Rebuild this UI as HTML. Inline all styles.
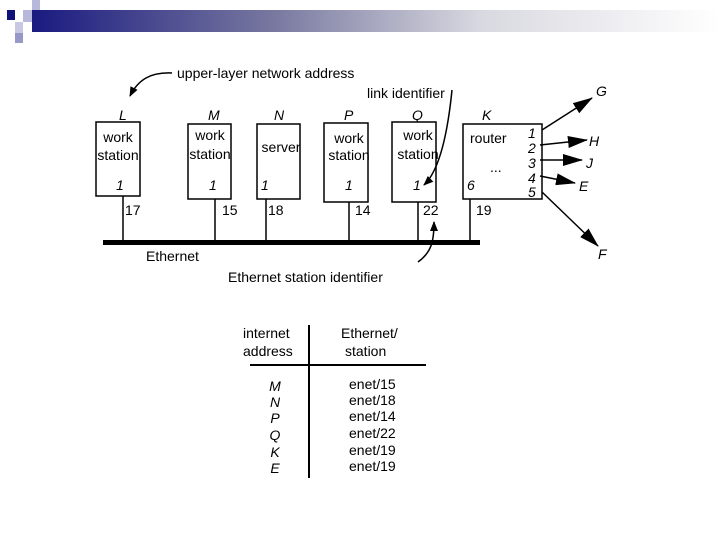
<!DOCTYPE html>
<html><head><meta charset="utf-8"><style>
html,body{margin:0;padding:0;background:#fff;}
svg{display:block;font-family:"Liberation Sans",Arial,sans-serif;}
</style></head><body>
<svg width="720" height="540" viewBox="0 0 720 540" xmlns="http://www.w3.org/2000/svg">
<defs>
<linearGradient id="g" x1="0" x2="1" y1="0" y2="0">
<stop offset="0" stop-color="#1a1a80"/><stop offset="0.35" stop-color="#7878a0"/><stop offset="0.65" stop-color="#d8d8e0"/><stop offset="1" stop-color="#ffffff"/>
</linearGradient>
<marker id="ah" markerWidth="10" markerHeight="8" refX="9" refY="4" orient="auto" markerUnits="userSpaceOnUse"><path d="M0,0 L10,4 L0,8 z" fill="#000"/></marker>
<marker id="big" markerWidth="20" markerHeight="12" refX="19" refY="6" orient="auto" markerUnits="userSpaceOnUse"><path d="M0,0 L20,6 L0,12 z" fill="#000"/></marker>
</defs>
<rect x="32" y="10" width="688" height="22" fill="url(#g)"/>
<rect x="32" y="0" width="8" height="10" fill="#b8b8dc"/>
<rect x="23" y="10" width="9" height="12" fill="#b8b8dc"/>
<rect x="15" y="22" width="8" height="11" fill="#c8c8e4"/>
<rect x="15" y="33" width="8" height="10" fill="#9898c8"/>
<rect x="7" y="10" width="8" height="10" fill="#10107a"/>

<g fill="none" stroke="#000" stroke-width="1.5">
<rect x="96" y="122" width="44" height="74"/>
<rect x="188" y="124" width="43" height="75"/>
<rect x="257" y="124" width="43" height="75"/>
<rect x="324" y="123" width="44" height="79"/>
<rect x="392" y="122" width="44" height="80"/>
<rect x="463" y="124" width="79" height="75"/>
<line x1="123" y1="196" x2="123" y2="242"/>
<line x1="215" y1="199" x2="215" y2="242"/>
<line x1="266" y1="199" x2="266" y2="242"/>
<line x1="349" y1="202" x2="349" y2="242"/>
<line x1="418" y1="202" x2="418" y2="242"/>
<line x1="470" y1="199" x2="470" y2="242"/>
<path d="M172,73 C150,72 138,80 130,96" marker-end="url(#ah)"/>
<path d="M452,90 C448,130 440,170 424,185" marker-end="url(#ah)"/>
<path d="M418,262 C432,252 434,240 434,222" marker-end="url(#ah)"/>
<line x1="542" y1="130" x2="592" y2="98" marker-end="url(#big)"/>
<line x1="540" y1="145" x2="587" y2="140" marker-end="url(#big)"/>
<line x1="540" y1="160" x2="582" y2="160" marker-end="url(#big)"/>
<line x1="540" y1="176" x2="575" y2="183" marker-end="url(#big)"/>
<line x1="542" y1="192" x2="598" y2="246" marker-end="url(#big)"/>
<line x1="309" y1="325" x2="309" y2="478" stroke-width="2"/>
<line x1="250" y1="365" x2="426" y2="365" stroke-width="2"/>
</g>
<rect x="103" y="240" width="377" height="5" fill="#000"/>

<g font-size="14" fill="#000">
<text x="177" y="78">upper-layer network address</text>
<text x="367" y="98">link identifier</text>
<text x="146" y="261">Ethernet</text>
<text x="228" y="282">Ethernet station identifier</text>
<g text-anchor="middle">
<text x="118" y="142">work</text><text x="118" y="160">station</text>
<text x="210" y="140">work</text><text x="210" y="159">station</text>
<text x="281" y="152">server</text>
<text x="349" y="143">work</text><text x="349" y="160">station</text>
<text x="418" y="140">work</text><text x="418" y="159">station</text>
</g>
<text x="470" y="143">router</text>
<text x="490" y="172">...</text>
<text x="125" y="215">17</text><text x="222" y="215">15</text><text x="268" y="215">18</text>
<text x="355" y="215">14</text><text x="423" y="215">22</text><text x="476" y="215">19</text>
<g font-style="italic">
<text x="119" y="120">L</text><text x="208" y="120">M</text><text x="274" y="120">N</text>
<text x="344" y="120">P</text><text x="412" y="120">Q</text><text x="482" y="120">K</text>
<text x="116" y="190">1</text><text x="209" y="190">1</text><text x="261" y="190">1</text>
<text x="345" y="190">1</text><text x="413" y="190">1</text><text x="467" y="190">6</text>
<text x="528" y="138">1</text><text x="528" y="153">2</text><text x="528" y="168">3</text>
<text x="528" y="183">4</text><text x="528" y="197">5</text>
<text x="596" y="96">G</text><text x="589" y="146">H</text><text x="586" y="168">J</text>
<text x="579" y="191">E</text><text x="598" y="259">F</text>
</g>
<text x="243" y="338">internet</text><text x="243" y="356">address</text>
<text x="341" y="338">Ethernet/</text><text x="345" y="356">station</text>
<g font-style="italic" text-anchor="middle">
<text x="275" y="391">M</text><text x="275" y="407">N</text><text x="275" y="423">P</text>
<text x="275" y="440">Q</text><text x="275" y="457">K</text><text x="275" y="473">E</text>
</g>
<text x="349" y="389">enet/15</text><text x="349" y="405">enet/18</text><text x="349" y="421">enet/14</text>
<text x="349" y="438">enet/22</text><text x="349" y="455">enet/19</text><text x="349" y="471">enet/19</text>
</g>
</svg>
</body></html>
